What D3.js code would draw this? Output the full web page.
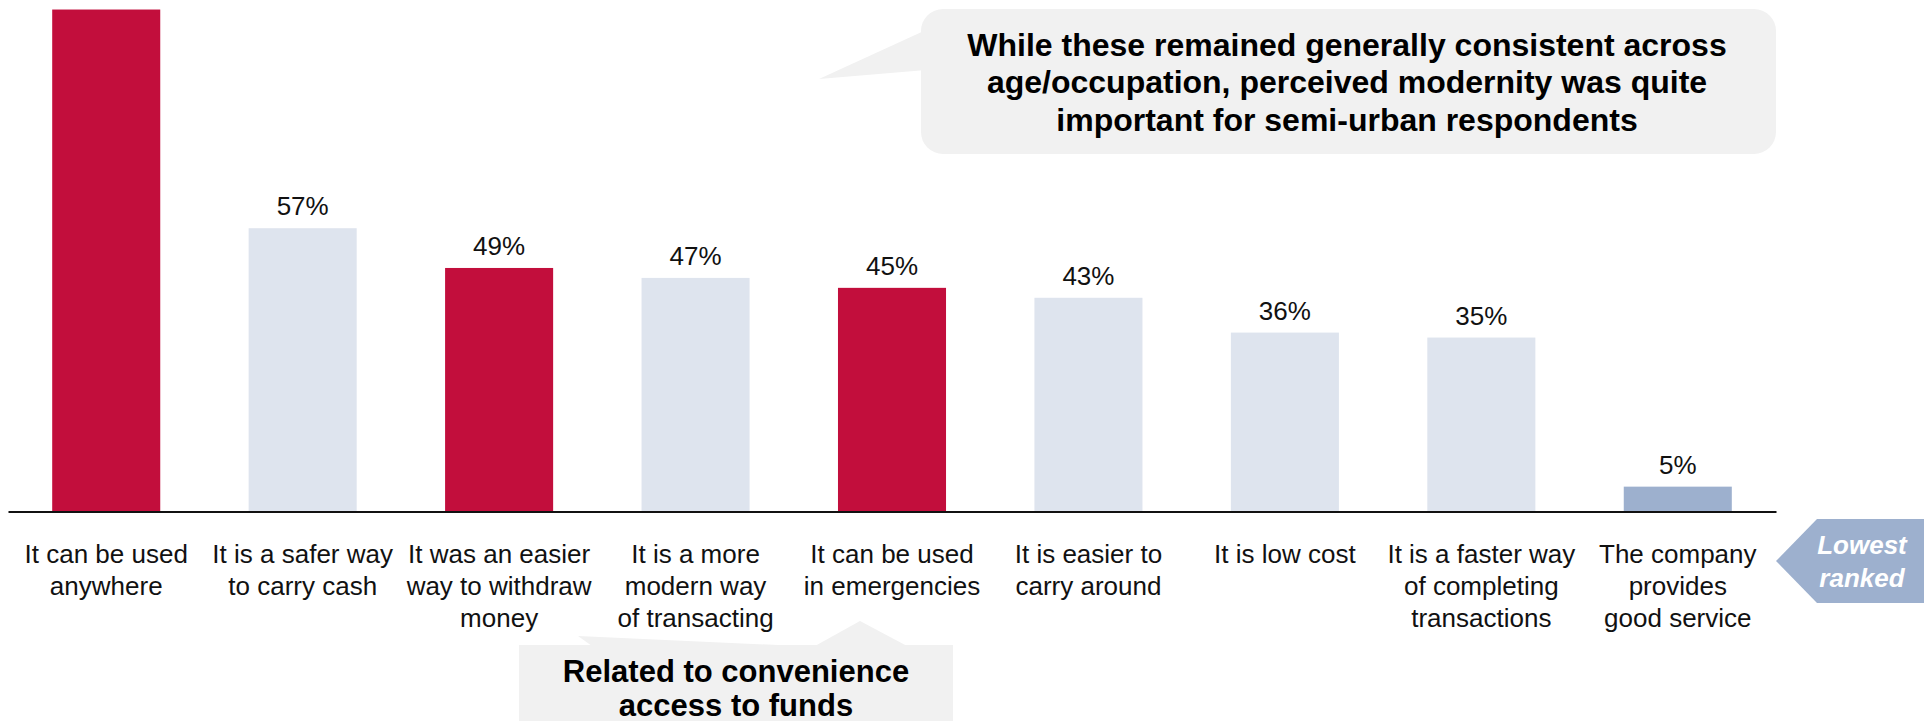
<!DOCTYPE html>
<meta charset="utf-8">
<script src="https://d3js.org/d3.v7.min.js"></script>
<style>
  body { margin: 0; background: #fff; }
  svg { font-family: "Liberation Sans", Arial, sans-serif; display: block; }
</style>
<div id="chart"></div>
<script>

// categories, one entry per bar (lines split with |)
var categories = [
  "It can be used|anywhere",
  "It is a safer way|to carry cash",
  "It was an easier|way to withdraw|money",
  "It is a more|modern way|of transacting",
  "It can be used|in emergencies",
  "It is easier to|carry around",
  "It is low cost",
  "It is a faster way|of completing|transactions",
  "The company|provides|good service"
];
// share of respondents, %
var values = [101, 57, 49, 47, 45, 43, 36, 35, 5];
// value labels (first one falls outside the picture)
var valueLabels = ["", "57%", "49%", "47%", "45%", "43%", "36%", "35%", "5%"];
// bar group: convenience, other, lowest
var groups = ["conv", "other", "conv", "other", "conv", "other", "other", "other", "low"];

var colors = {conv: "#c20e3c", other: "#dee4ee", low: "#9db0ce"};

var width = 1924, height = 721;

var svg = d3.select("#chart")
  .append("svg")
    .attr("width", width)
    .attr("height", height);

var x = d3.scaleBand()
  .domain(categories)
  .range([8, 1776])
  .paddingInner(0.45)
  .paddingOuter(0.225);

var y = d3.scaleLinear()
  .domain([0, 100])
  .range([511.5, 14.5]);

// bars
svg.selectAll("rect.bar")
  .data(categories)
  .enter()
  .append("rect")
    .attr("class", "bar")
    .attr("x", function(d) { return x(d); })
    .attr("y", function(d, i) { return y(values[i]); })
    .attr("width", x.bandwidth())
    .attr("height", function(d, i) { return y(0) - y(values[i]); })
    .attr("fill", function(d, i) { return colors[groups[i]]; });

// value labels
svg.selectAll("text.val")
  .data(categories)
  .enter()
  .filter(function(d, i) { return valueLabels[i] != ""; })
  .append("text")
    .attr("class", "val")
    .attr("x", function(d) { return x(d) + x.bandwidth() / 2; })
    .attr("y", function(d) { return y(values[categories.indexOf(d)]) - 13; })
    .attr("text-anchor", "middle")
    .style("font-size", "26px")
    .style("fill", "#111")
    .text(function(d) { return valueLabels[categories.indexOf(d)]; });

// x axis
var xAxis = svg.append("g")
  .attr("transform", "translate(0," + y(0) + ")")
  .call(d3.axisBottom(x).tickSize(0).tickSizeOuter(0).tickFormat(""));

xAxis.select(".domain")
  .attr("stroke", "#111")
  .attr("stroke-width", 2);

xAxis.selectAll(".tick text").remove();
xAxis.selectAll(".tick")
  .append("text")
    .attr("y", 51.5)
    .attr("text-anchor", "middle")
    .style("font-size", "26px")
    .style("fill", "#111")
    .style("font-family", "'Liberation Sans', Arial, sans-serif")
    .each(function(d) {
      var t = d3.select(this);
      d.split("|").forEach(function(line, j) {
        t.append("tspan")
          .attr("x", 0)
          .attr("dy", j == 0 ? 0 : 32)
          .text(line);
      });
    });

// top callout
var boxFill = "#f1f1f1";
svg.append("path")
  .attr("d", "M819,79 L926,30 L926,70 Z")
  .attr("fill", boxFill);
svg.append("rect")
  .attr("x", 921).attr("y", 9)
  .attr("width", 855).attr("height", 145)
  .attr("rx", 22)
  .attr("fill", boxFill);

var topNote = ["While these remained generally consistent across",
               "age/occupation, perceived modernity was quite",
               "important for semi-urban respondents"];
svg.append("g").selectAll("text")
  .data(topNote)
  .enter()
  .append("text")
    .attr("x", 1347)
    .attr("y", function(d, i) { return 55.5 + i * 37.5; })
    .attr("text-anchor", "middle")
    .style("font-size", "32px")
    .style("font-weight", "bold")
    .style("fill", "#000")
    .text(function(d) { return d; });

// bottom callout
svg.append("path")
  .attr("d", "M578,636 L800,646 L592,646 Z")
  .attr("fill", boxFill);
svg.append("path")
  .attr("d", "M815,646 L860,621 L907,646 Z")
  .attr("fill", boxFill);
svg.append("rect")
  .attr("x", 519).attr("y", 645)
  .attr("width", 434).attr("height", 80)
  .attr("fill", boxFill);

var bottomNote = ["Related to convenience", "access to funds"];
svg.append("g").selectAll("text")
  .data(bottomNote)
  .enter()
  .append("text")
    .attr("x", 736)
    .attr("y", function(d, i) { return 682 + i * 34; })
    .attr("text-anchor", "middle")
    .style("font-size", "31px")
    .style("font-weight", "bold")
    .style("fill", "#000")
    .text(function(d) { return d; });

// lowest ranked arrow
svg.append("path")
  .attr("d", "M1776,561 L1817,519 L1924,519 L1924,603 L1817,603 Z")
  .attr("fill", "#9db0ce");

svg.append("g").selectAll("text")
  .data(["Lowest", "ranked"])
  .enter()
  .append("text")
    .attr("x", 1862)
    .attr("y", function(d, i) { return 554 + i * 33; })
    .attr("text-anchor", "middle")
    .style("font-size", "26px")
    .style("font-weight", "bold")
    .style("font-style", "italic")
    .style("fill", "#fff")
    .text(function(d) { return d; });

</script>
